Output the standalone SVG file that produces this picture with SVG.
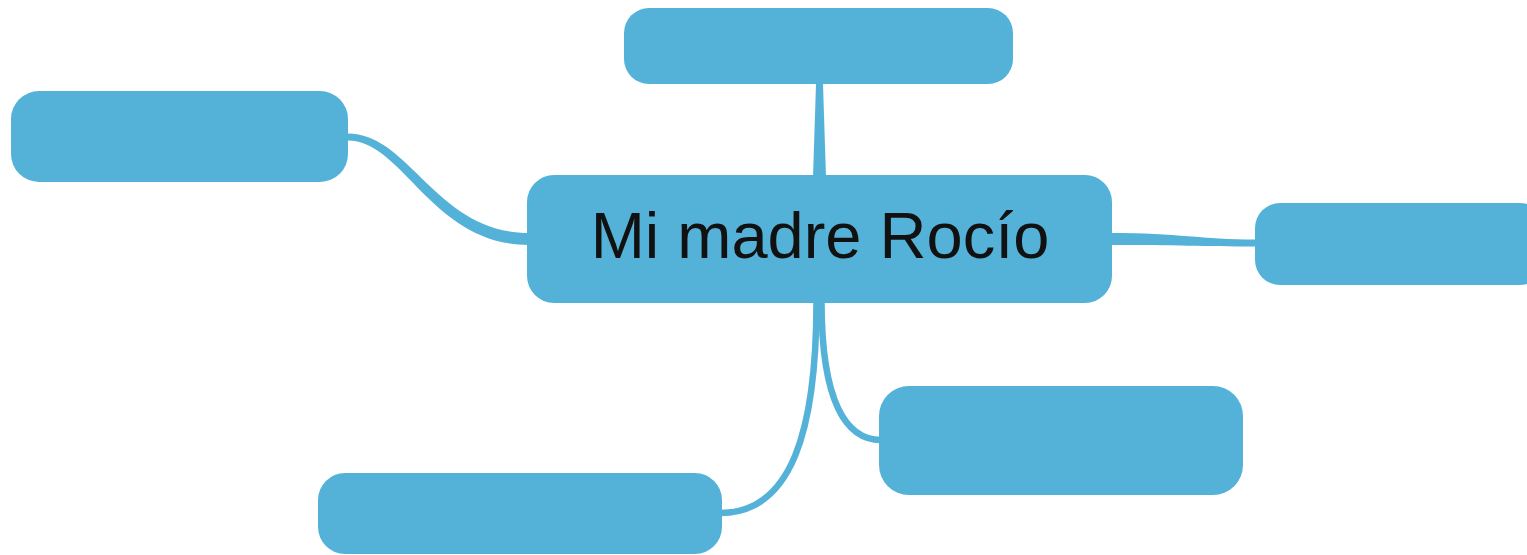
<svg xmlns="http://www.w3.org/2000/svg" width="1527" height="555" viewBox="0 0 1527 555">
<style>
.node{fill:#54B2D9}
.conn{fill:#54B2D9}
.cs{fill:none;stroke:#54B2D9;stroke-width:6.5;stroke-linecap:butt}
.lbl{font-family:"Liberation Sans","DejaVu Sans",sans-serif;font-size:65px;fill:#111;text-anchor:middle}
</style>
<rect width="1527" height="555" fill="#fff"/>
<g id="connectors">
<path class="conn" d="M816,84 L823,84 L826,177 L813,177 Z"/>
<path class="conn" d="M348,133.5 C410,133.5 436,233 529,233 L529,245 C432,245 403,140.5 348,140.5 Z"/>
<path class="conn" d="M1110,233 C1180,233 1200,239.5 1256,239.5 L1256,246.5 C1200,246.5 1180,245 1110,245 Z"/>
<path class="cs" d="M816.5,301 C816.5,430 792,513 720,513"/>
<path class="cs" d="M821.5,301 C821.5,402 846,440 881,440"/>
</g>
<g id="node-top"><rect class="node" x="624" y="8" width="389" height="76" rx="25"/></g>
<g id="node-left"><rect class="node" x="11" y="91" width="337" height="91" rx="28"/></g>
<g id="node-right"><rect class="node" x="1255" y="203" width="290" height="82" rx="25"/></g>
<g id="node-bottom-right"><rect class="node" x="879" y="386" width="364" height="109" rx="30"/></g>
<g id="node-bottom-left"><rect class="node" x="318" y="473" width="404" height="81" rx="27"/></g>
<g id="node-center">
<rect class="node" x="527" y="175" width="585" height="128" rx="27"/>
<text class="lbl" x="820" y="258">Mi madre Rocío</text>
</g>
</svg>
